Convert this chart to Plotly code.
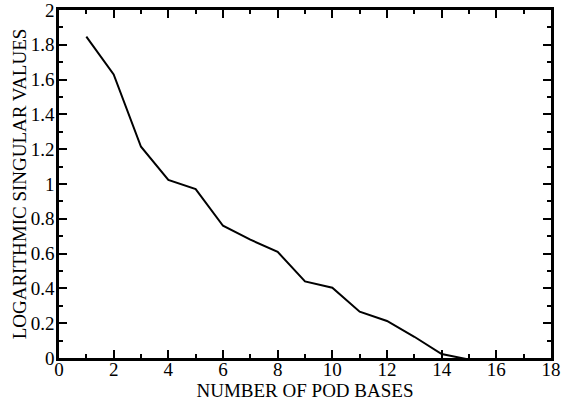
import plotly.graph_objects as go

pod_bases = [1, 2, 3, 4, 5, 6, 7, 8, 9, 10, 11, 12, 13, 14, 15]
log_singular_values = [1.847, 1.63, 1.214, 1.023, 0.971, 0.76, 0.68, 0.61, 0.44, 0.404, 0.266, 0.213, 0.122, 0.023, -0.009]

x_tickvals = [0, 2, 4, 6, 8, 10, 12, 14, 16, 18]
y_tickvals = [0, 0.2, 0.4, 0.6, 0.8, 1, 1.2, 1.4, 1.6, 1.8, 2]
y_ticktext = ["0", "0.2", "0.4", "0.6", "0.8", "1", "1.2", "1.4", "1.6", "1.8", "2"]

fig = go.Figure()
fig.add_trace(go.Scatter(x=pod_bases, y=log_singular_values, mode="lines",
                         line=dict(color="black", width=2), showlegend=False))

serif = "Liberation Serif, Times New Roman, Times, serif"

fig.update_layout(
    width=562, height=403,
    margin=dict(l=59, r=11, t=10, b=45, autoexpand=False),
    paper_bgcolor="white", plot_bgcolor="white",
    font=dict(family=serif, size=19, color="black"),
)
fig.update_xaxes(
    range=[0, 18], tickvals=x_tickvals, ticks="inside", ticklen=8, tickwidth=1.5,
    tickcolor="black", showline=True, linecolor="black", linewidth=2.5, mirror="ticks",
    showgrid=False, zeroline=False, automargin=False,
    ticklabelstandoff=-8, ticklabeloverflow="allow",
    minor=dict(ticks="inside", ticklen=4, dtick=1, tick0=0, tickcolor="black", tickwidth=1.5, showgrid=False),
    title=dict(text="NUMBER OF POD BASES", font=dict(family=serif, size=19), standoff=2),
    tickfont=dict(family=serif, size=19),
)
fig.update_yaxes(
    range=[0, 2], tickvals=y_tickvals, ticktext=y_ticktext, ticks="inside", ticklen=8, tickwidth=1.5,
    tickcolor="black", showline=True, linecolor="black", linewidth=2.5, mirror="ticks",
    showgrid=False, zeroline=False, automargin=False,
    ticklabelstandoff=-2, ticklabeloverflow="allow",
    minor=dict(ticks="inside", ticklen=4, dtick=0.1, tick0=0, tickcolor="black", tickwidth=1.5, showgrid=False),
    title=dict(text="LOGARITHMIC SINGULAR VALUES", font=dict(family=serif, size=19), standoff=0),
    tickfont=dict(family=serif, size=19),
)

fig.write_html("out.html", config={"displayModeBar": False},
               post_script="document.body.style.margin='0px';")
